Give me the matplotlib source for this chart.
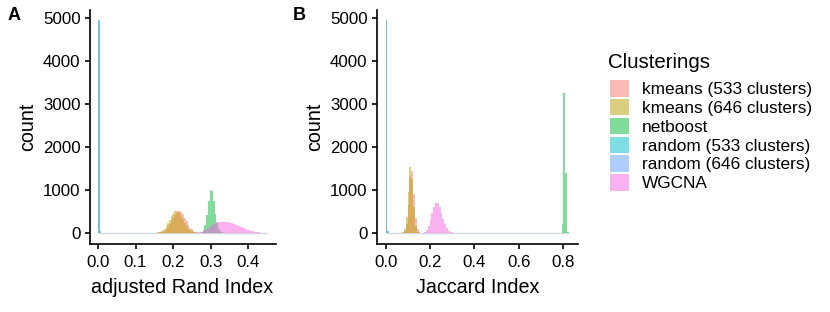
import numpy as np
import matplotlib.pyplot as plt
from matplotlib.patches import Patch

plt.rcParams['font.family'] = ['Liberation Sans', 'DejaVu Sans']

groups = ['kmeans (533 clusters)', 'kmeans (646 clusters)', 'netboost',
          'random (533 clusters)', 'random (646 clusters)', 'WGCNA']
colors = ['#F8766D', '#B79F00', '#00BA38', '#00BFC4', '#619CFF', '#F564E3']

# panel A: adjusted Rand Index, 100 bins over [0, 0.45]
ari_range = (0.0, 0.45)
ari_kmeans533_start = 34
ari_kmeans533 = [3, 5, 9, 16, 30, 52, 85, 135, 200, 275, 350, 420, 470, 505, 500,
                 470, 410, 340, 265, 190, 125, 80, 48, 26, 14, 7, 3, 2]
ari_kmeans646_start = 32
ari_kmeans646 = [2, 4, 7, 12, 22, 38, 62, 98, 150, 222, 300, 385, 450, 505, 520,
                 495, 455, 380, 300, 220, 150, 98, 58, 32, 17, 9, 4, 2]
ari_netboost_start = 60
ari_netboost = [3, 15, 60, 180, 420, 750, 1010, 980, 750, 450, 230, 95, 35, 10, 3]
ari_random533_start = 0
ari_random533 = [4960, 40]
ari_random646_start = 0
ari_random646 = [4950, 50]
ari_wgcna_start = 58
ari_wgcna = [5, 10, 18, 30, 45, 65, 90, 120, 150, 185,
             215, 240, 252, 258, 262, 256, 260, 252, 245, 248,
             235, 225, 210, 195, 180, 165, 148, 128, 112, 94,
             78, 64, 50, 39, 29, 21, 15, 10, 7, 5, 3, 2]

# panel B: Jaccard Index, 100 bins over [0, 0.826]
jac_range = (0.0, 0.826)
jac_kmeans533_start = 10
jac_kmeans533 = [40, 200, 650, 1300, 1440, 900, 350, 90, 20, 5]
jac_kmeans646_start = 9
jac_kmeans646 = [15, 90, 380, 950, 1530, 1250, 600, 160, 25, 5]
jac_netboost_start = 95
jac_netboost = [5, 200, 3260, 1400, 20]
jac_random533_start = 0
jac_random533 = [4960, 40]
jac_random646_start = 0
jac_random646 = [4950, 50]
jac_wgcna_start = 20
jac_wgcna = [8, 30, 75, 160, 300, 460, 610, 700, 690, 600, 470, 330, 200, 110,
             55, 25, 10, 4]

n_bins = 100


def full(counts, start):
    arr = np.zeros(n_bins)
    arr[start:start + len(counts)] = counts
    return arr


ari = [full(ari_kmeans533, ari_kmeans533_start), full(ari_kmeans646, ari_kmeans646_start),
       full(ari_netboost, ari_netboost_start), full(ari_random533, ari_random533_start),
       full(ari_random646, ari_random646_start), full(ari_wgcna, ari_wgcna_start)]
jac = [full(jac_kmeans533, jac_kmeans533_start), full(jac_kmeans646, jac_kmeans646_start),
       full(jac_netboost, jac_netboost_start), full(jac_random533, jac_random533_start),
       full(jac_random646, jac_random646_start), full(jac_wgcna, jac_wgcna_start)]

fig = plt.figure(figsize=(8.3, 3.12), dpi=100)
W, H = 830, 312
axA = fig.add_axes([89.5 / W, 1 - 243.5 / H, (275.5 - 89.5) / W, (243.5 - 9.5) / H])
axB = fig.add_axes([376.5 / W, 1 - 243.5 / H, (578 - 376.5) / W, (243.5 - 9.5) / H])


def draw(ax, data, rng, xticks, xlabel):
    edges = np.linspace(rng[0], rng[1], n_bins + 1)
    ax.hlines(0, edges[0], edges[-1], color='#cfd8de', lw=1.0, zorder=1)
    for counts, c in zip(data, colors):
        ax.stairs(counts, edges, fill=True, color=c, alpha=0.5, linewidth=0, zorder=2)
    span = rng[1] - rng[0]
    ax.set_xlim(rng[0] - 0.05 * span, rng[1] + 0.05 * span)
    top = max(d.max() for d in data)
    ax.set_ylim(-0.05 * top, 1.05 * top)
    ax.set_xticks(xticks)
    ax.set_xticklabels([f'{t:.1f}' for t in xticks])
    ax.set_yticks([0, 1000, 2000, 3000, 4000, 5000])
    for s in ['top', 'right']:
        ax.spines[s].set_visible(False)
    for s in ['left', 'bottom']:
        ax.spines[s].set_linewidth(1.2)
        ax.spines[s].set_color('black')
    ax.tick_params(length=3.5, width=1.2, labelsize=12.2, colors='black')
    ax.tick_params(axis='x', pad=4.5)
    ax.tick_params(axis='y', pad=3)
    ax.set_xlabel(xlabel, fontsize=14.2, labelpad=6)
    ax.set_ylabel('count', fontsize=14.2, labelpad=4)


draw(axA, ari, ari_range, [0.0, 0.1, 0.2, 0.3, 0.4], 'adjusted Rand Index')
draw(axB, jac, jac_range, [0.0, 0.2, 0.4, 0.6, 0.8], 'Jaccard Index')

fig.text(8 / W, 1 - 16 / H, 'A', fontsize=13, fontweight='bold', va='center')
fig.text(293 / W, 1 - 16 / H, 'B', fontsize=13, fontweight='bold', va='center')

fig.text(608 / W, 1 - 62 / H, 'Clusterings', fontsize=14.7, va='center')
handles = [Patch(facecolor=c, alpha=0.5, linewidth=0) for c in colors]
fig.legend(handles, groups, loc='upper left', bbox_to_anchor=(610 / W, 1 - 80 / H),
           frameon=False, fontsize=12.4,
           handlelength=1.1, handleheight=1.1, handletextpad=0.75, labelspacing=0.1,
           borderpad=0, borderaxespad=0)

fig.savefig('out.png', dpi=100)
